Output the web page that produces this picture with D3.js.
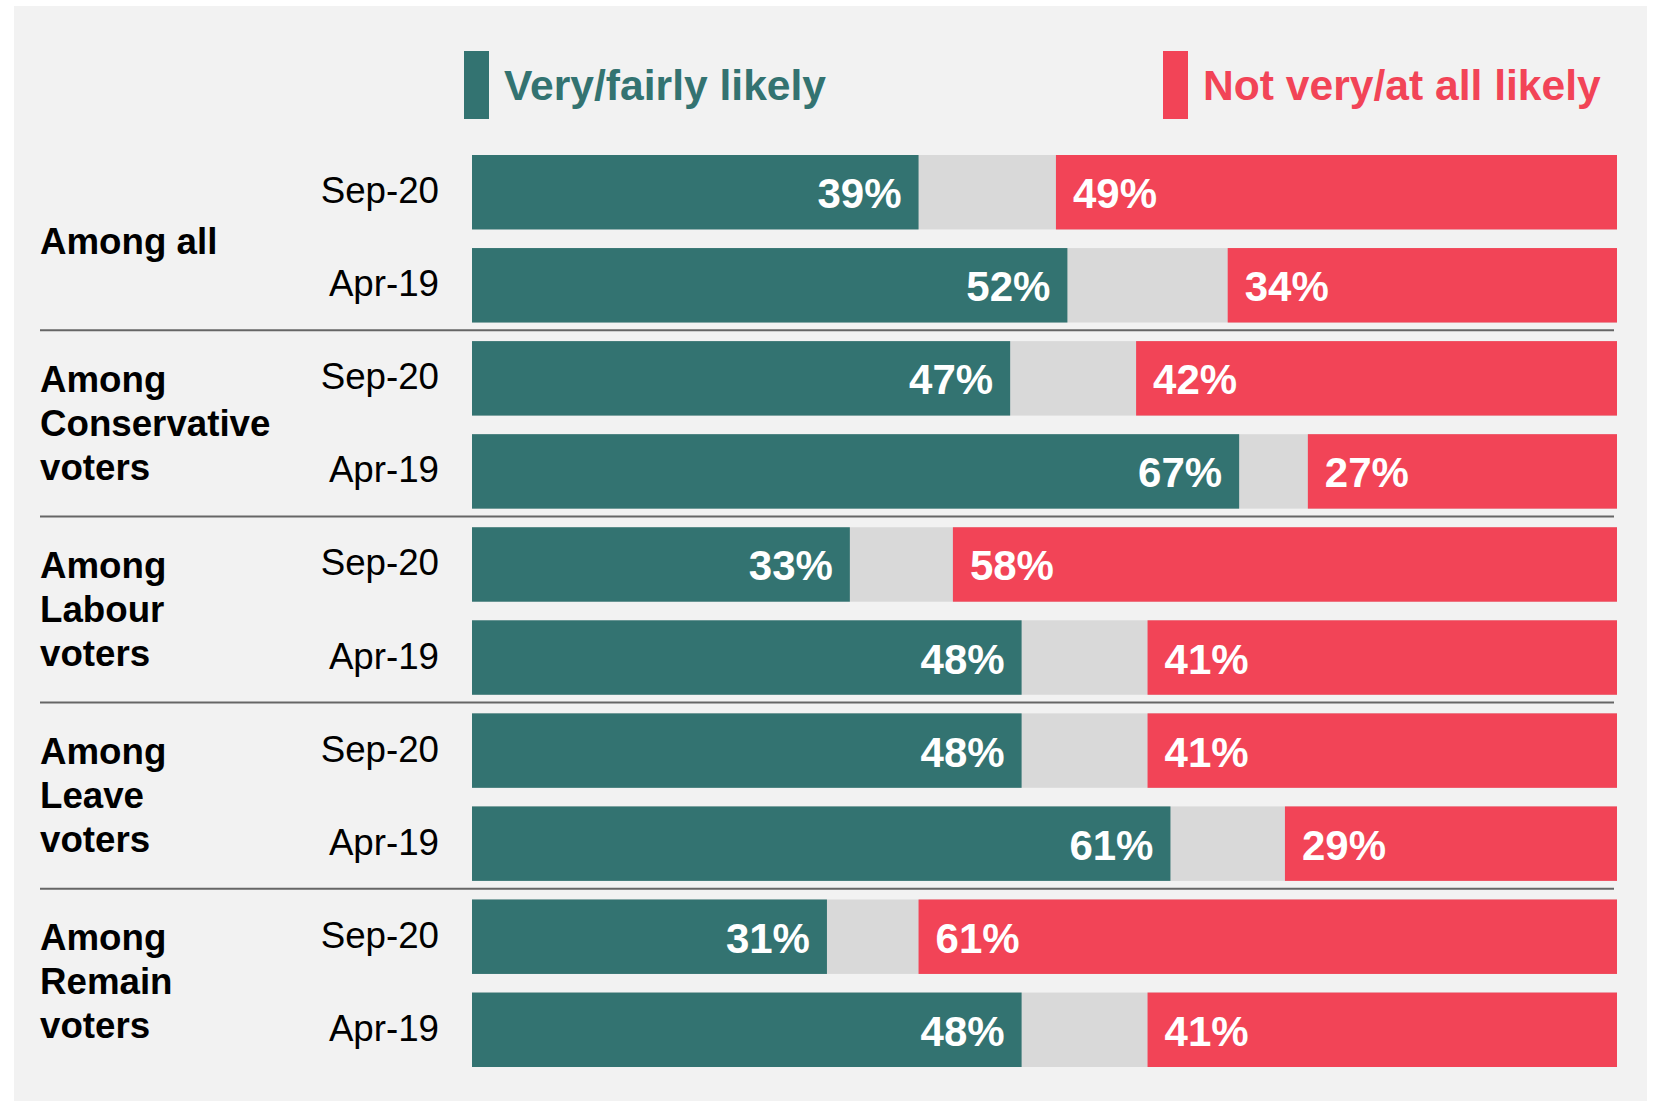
<!DOCTYPE html>
<html>
<head>
<meta charset="utf-8">
<script src="https://cdn.jsdelivr.net/npm/d3@7"></script>
<style>
  body { margin: 0; background: #ffffff; }
  svg text { font-family: "Liberation Sans", Arial, sans-serif; }
</style>
</head>
<body>
<div id="chart"></div>
<script>
// groups (each shown over two rows), the survey waves and the shares
const groups = [["Among all"], ["Among", "Conservative", "voters"], ["Among", "Labour", "voters"], ["Among", "Leave", "voters"], ["Among", "Remain", "voters"]];
const waves = ["Sep-20", "Apr-19"];
const likely = [39, 52, 47, 67, 33, 48, 48, 61, 31, 48];
const unlikely = [49, 34, 42, 27, 58, 41, 41, 29, 61, 41];
const legendLabels = ["Very/fairly likely", "Not very/at all likely"];

const w = 1653;
const h = 1101;
const teal = "#337371";
const red = "#f24457";
const grey = "#d9d9d9";

//one row per bar
const rows = likely.map((d, i) => ({
    id: i,
    group: Math.floor(i / 2),
    wave: waves[i % 2],
    likely: d,
    unlikely: unlikely[i]
}));

const svg = d3.select("#chart")
    .append("svg")
    .attr("width", w)
    .attr("height", h);

//grey panel behind everything
svg.append("rect")
    .attr("x", 14)
    .attr("y", 6)
    .attr("width", 1633)
    .attr("height", h - 6)
    .style("fill", "#f2f2f2");

//scales
const xScale = d3.scaleLinear()
    .domain([0, 100])
    .range([472, 1617]);

const yScale = d3.scaleBand()
    .domain(rows.map(d => d.id))
    .range([155, 1067])
    .paddingInner(0.2)
    .paddingOuter(0);

const bw = yScale.bandwidth();

//legend
const legend = svg.append("g").attr("id", "legend");
[[464, teal], [1163, red]].forEach((l, i) => {
    legend.append("rect")
        .attr("x", l[0])
        .attr("y", 51)
        .attr("width", 25)
        .attr("height", 68)
        .style("fill", l[1]);
    legend.append("text")
        .attr("x", l[0] + 40)
        .attr("y", 100)
        .text(legendLabels[i])
        .style("fill", l[1])
        .style("font-weight", "bold")
        .style("font-size", "42.6px");
});

//bars: grey background = the rest, then teal from left and red from right
const bars = svg.append("g").attr("id", "bars");

bars.selectAll("rect.rest")
    .data(rows)
    .enter()
    .append("rect")
    .attr("class", "rest")
    .attr("x", xScale(0))
    .attr("y", d => yScale(d.id))
    .attr("width", xScale(100) - xScale(0))
    .attr("height", bw)
    .style("fill", grey);

bars.selectAll("rect.likely")
    .data(rows)
    .enter()
    .append("rect")
    .attr("class", "likely")
    .attr("x", xScale(0))
    .attr("y", d => yScale(d.id))
    .attr("width", d => xScale(d.likely) - xScale(0))
    .attr("height", bw)
    .style("fill", teal);

bars.selectAll("rect.unlikely")
    .data(rows)
    .enter()
    .append("rect")
    .attr("class", "unlikely")
    .attr("x", d => xScale(100 - d.unlikely))
    .attr("y", d => yScale(d.id))
    .attr("width", d => xScale(100) - xScale(100 - d.unlikely))
    .attr("height", bw)
    .style("fill", red);

//value labels inside the bars
bars.selectAll("text.likely")
    .data(rows)
    .enter()
    .append("text")
    .attr("class", "likely")
    .attr("x", d => xScale(d.likely) - 17)
    .attr("y", d => yScale(d.id) + bw / 2 + 16)
    .attr("text-anchor", "end")
    .text(d => d.likely + "%")
    .style("fill", "#ffffff")
    .style("font-weight", "bold")
    .style("font-size", "42px");

bars.selectAll("text.unlikely")
    .data(rows)
    .enter()
    .append("text")
    .attr("class", "unlikely")
    .attr("x", d => xScale(100 - d.unlikely) + 17)
    .attr("y", d => yScale(d.id) + bw / 2 + 16)
    .text(d => d.unlikely + "%")
    .style("fill", "#ffffff")
    .style("font-weight", "bold")
    .style("font-size", "42px");

//wave labels
svg.selectAll("text.wave")
    .data(rows)
    .enter()
    .append("text")
    .attr("class", "wave")
    .attr("x", 439)
    .attr("y", d => yScale(d.id) + bw / 2 + 11)
    .attr("text-anchor", "end")
    .text(d => d.wave)
    .style("fill", "#000000")
    .style("font-size", "36.7px");

//group labels, centred on their pair of bars
groups.forEach((lines, g) => {
    const mid = (yScale(g * 2) + yScale(g * 2 + 1) + bw) / 2;
    const off = lines.length == 1 ? 15 : 11;
    const t = svg.append("text")
        .attr("x", 40)
        .style("fill", "#000000")
        .style("font-weight", "bold")
        .style("font-size", "36.7px");
    lines.forEach((line, i) => {
        t.append("tspan")
            .attr("x", 40)
            .attr("y", mid + off + (i - (lines.length - 1) / 2) * 44)
            .text(line);
    });
});

//separators between groups
d3.range(1, groups.length).forEach(g => {
    const yy = (yScale(g * 2 - 1) + bw + yScale(g * 2)) / 2 - 1.5;
    svg.append("line")
        .attr("x1", 40)
        .attr("x2", 1614)
        .attr("y1", yy)
        .attr("y2", yy)
        .style("stroke", "#666666")
        .style("stroke-width", "2px");
});
</script>
</body>
</html>
